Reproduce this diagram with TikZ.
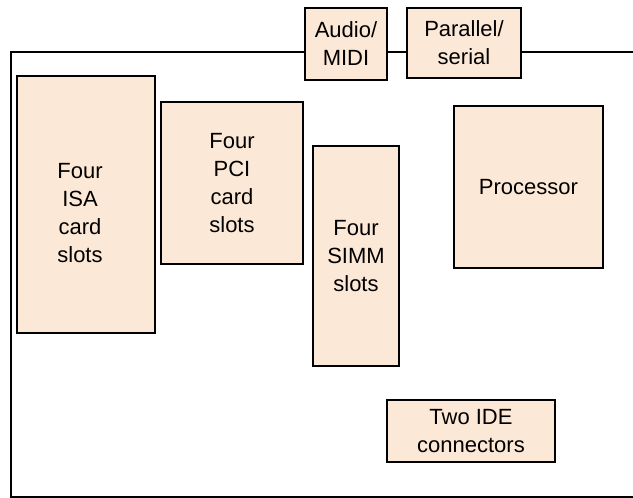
\documentclass[tikz,border=0pt]{standalone}
\usepackage{fontspec}
\setmainfont{Liberation Sans}
\usepackage{xcolor}
\definecolor{chip}{HTML}{FCE8D6}

\tikzset{
    part/.style={draw, line width=1.6pt, fill=chip, align=center, inner sep=0pt,
        font=\fontsize{22}{28}\selectfont},
    lbl/.style={align=center, font=\fontsize{22}{28}\selectfont}
}

\begin{document}
\begin{tikzpicture}[x=1pt,y=-1pt]
    \useasboundingbox (0,0) rectangle (633,498);

    %board outline
    \coordinate (tl) at (11,52);
    \coordinate (bl) at (11,497);
    \coordinate (br) at (633,497);
    \coordinate (tr) at (633,52);

    %back panel connectors
    \node[part, minimum width=82, minimum height=72] (audio) at (346,44) {Audio/\\MIDI};
    \node[part, minimum width=114, minimum height=70] (par) at (464,43) {Parallel/\\serial};

    \draw[line width=1.6pt] (audio.west |- tl) -- (tl) -- (bl) -- (br);
    \draw[line width=1.6pt] (audio.east |- tl) -- (par.west |- tl);
    \draw[line width=1.6pt] (par.east |- tl) -- (tr);

    %slots
    \node[part, minimum width=138, minimum height=257,
        label={[lbl, xshift=-6pt, yshift=-9pt]center:Four\\ISA\\card\\slots}] (isa) at (86,204.5) {};
    \node[part, minimum width=142, minimum height=162] (pci) at (232,183) {Four\\PCI\\card\\slots};
    \node[part, minimum width=86, minimum height=220] (simm) at (356,256) {Four\\SIMM\\slots};

    %cpu and drives
    \node[part, minimum width=149, minimum height=162] (cpu) at (528.5,187) {Processor};
    \node[part, minimum width=168, minimum height=62] (ide) at (471,431) {Two IDE\\connectors};
\end{tikzpicture}
\end{document}
